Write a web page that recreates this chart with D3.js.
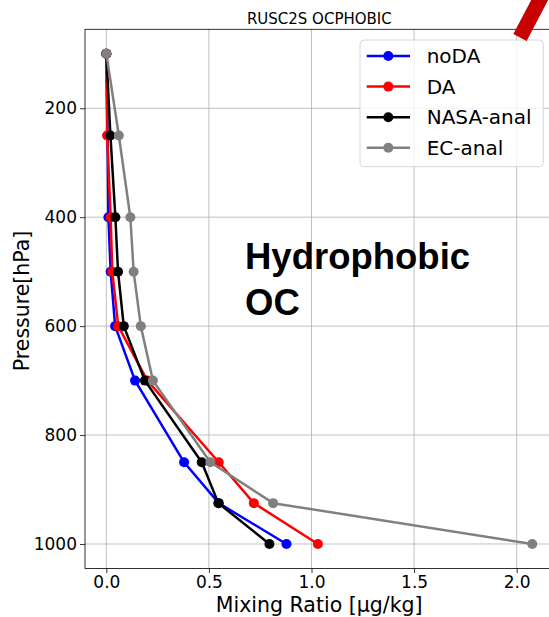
<!DOCTYPE html>
<html><head><meta charset="utf-8">
<script src="https://cdn.jsdelivr.net/npm/d3@7"></script>
<style>body{margin:0;background:#fff}svg{display:block}</style>
</head><body><svg id="c" width="549" height="617"></svg>
<script>
const levels = [100, 250, 400, 500, 600, 700, 850, 925, 1000];
const noDA   = [0, 0.006, 0.010, 0.021, 0.043, 0.140, 0.379, 0.548, 0.878];
const DA     = [0, 0.004, 0.021, 0.029, 0.058, 0.200, 0.548, 0.719, 1.031];
const nasa   = [0, 0.020, 0.044, 0.057, 0.085, 0.188, 0.465, 0.546, 0.795];
const ec     = [0, 0.061, 0.117, 0.133, 0.168, 0.227, 0.507, 0.813, 2.076];
const seriesNames = ["noDA", "DA", "NASA-anal", "EC-anal"];
const seriesColors = ["#0000ff", "#ff0000", "#000000", "#808080"];
const seriesVals = [noDA, DA, nasa, ec];
const xTicks = [0, 0.5, 1.0, 1.5, 2.0];
const yTicks = [200, 400, 600, 800, 1000];

const svg = d3.select("#c");
const L = 85, R = 553.6, T = 29.3, B = 568.5;
const x = d3.scaleLinear().domain([-0.104, 2.18]).range([L, R]);
const y = d3.scaleLinear().domain([55, 1045]).range([T, B]);
const font = "DejaVu Sans";

// grid
const g = svg.append("g");
g.selectAll(".gx").data(xTicks).join("line")
  .attr("x1", d => x(d)).attr("x2", d => x(d)).attr("y1", T).attr("y2", B)
  .attr("stroke", "#b0b0b0").attr("stroke-width", 0.8);
g.selectAll(".gy").data(yTicks).join("line")
  .attr("y1", d => y(d)).attr("y2", d => y(d)).attr("x1", L).attr("x2", R)
  .attr("stroke", "#b0b0b0").attr("stroke-width", 0.8);

// axes
const xAxis = d3.axisBottom(x).tickValues(xTicks).tickFormat(d3.format(".1f")).tickSize(4.5).tickPadding(3.2);
const yAxis = d3.axisLeft(y).tickValues(yTicks).tickFormat(d3.format("d")).tickSize(5).tickPadding(3);
const xa = svg.append("g").attr("transform", `translate(0,${B})`).call(xAxis);
const ya = svg.append("g").attr("transform", `translate(${L},0)`).call(yAxis);
[xa, ya].forEach(a => {
  a.select(".domain").remove();
  a.selectAll("text").attr("font-family", font).attr("font-size", 17).attr("fill", "#000");
  a.selectAll("line").attr("stroke", "#000").attr("stroke-width", 0.8);
});
// spines
svg.append("rect").attr("x", L).attr("y", T).attr("width", R - L).attr("height", B - T)
  .attr("fill", "none").attr("stroke", "#000").attr("stroke-width", 0.8);

// series
const line = d3.line().x(d => x(d[0])).y(d => y(d[1]));
seriesVals.forEach((vals, i) => {
  const pts = vals.map((v, j) => [v, levels[j]]);
  svg.append("path").datum(pts).attr("d", line).attr("fill", "none")
    .attr("stroke", seriesColors[i]).attr("stroke-width", 2.5).attr("stroke-linejoin", "round");
  svg.append("g").selectAll("circle").data(pts).join("circle")
    .attr("cx", d => x(d[0])).attr("cy", d => y(d[1])).attr("r", 5)
    .attr("fill", seriesColors[i]);
});

// title
svg.append("text").attr("x", (L + R) / 2).attr("y", 24).attr("text-anchor", "middle")
  .attr("font-family", font).attr("font-size", 15).text("RUSC2S OCPHOBIC");
// axis labels
svg.append("text").attr("x", 319.2).attr("y", 611.5).attr("text-anchor", "middle")
  .attr("font-family", font).attr("font-size", 20.5).text("Mixing Ratio [µg/kg]");
svg.append("text").attr("transform", `translate(28.5,${(T + B) / 2 + 2}) rotate(-90)`).attr("text-anchor", "middle")
  .attr("font-family", font).attr("font-size", 20.5).text("Pressure[hPa]");

// annotation
const ann = svg.append("text").attr("font-family", "Liberation Sans").attr("font-weight", "bold")
  .attr("font-size", 36.5).attr("fill", "#000");
ann.append("tspan").attr("x", 245).attr("y", 268.5).text("Hydrophobic");
ann.append("tspan").attr("x", 245).attr("y", 315).text("OC");

// legend
const lg = svg.append("g");
lg.append("rect").attr("x", 360).attr("y", 40).attr("width", 183.3).attr("height", 126.7)
  .attr("rx", 4).attr("fill", "#fff").attr("fill-opacity", 0.8).attr("stroke", "#cccccc").attr("stroke-width", 0.8);
seriesNames.forEach((n, i) => {
  const yy = 56 + i * 30.6;
  lg.append("line").attr("x1", 366.7).attr("x2", 410).attr("y1", yy).attr("y2", yy)
    .attr("stroke", seriesColors[i]).attr("stroke-width", 2.5);
  lg.append("circle").attr("cx", 388.3).attr("cy", yy).attr("r", 5).attr("fill", seriesColors[i]);
  lg.append("text").attr("x", 426.7).attr("y", yy + 7).attr("font-family", font).attr("font-size", 20).text(n);
});

// red arrow shaft at top right
svg.append("line").attr("x1", 520).attr("y1", 37.5).attr("x2", 546).attr("y2", -12)
  .attr("stroke", "#c80000").attr("stroke-width", 15);
</script></body></html>
